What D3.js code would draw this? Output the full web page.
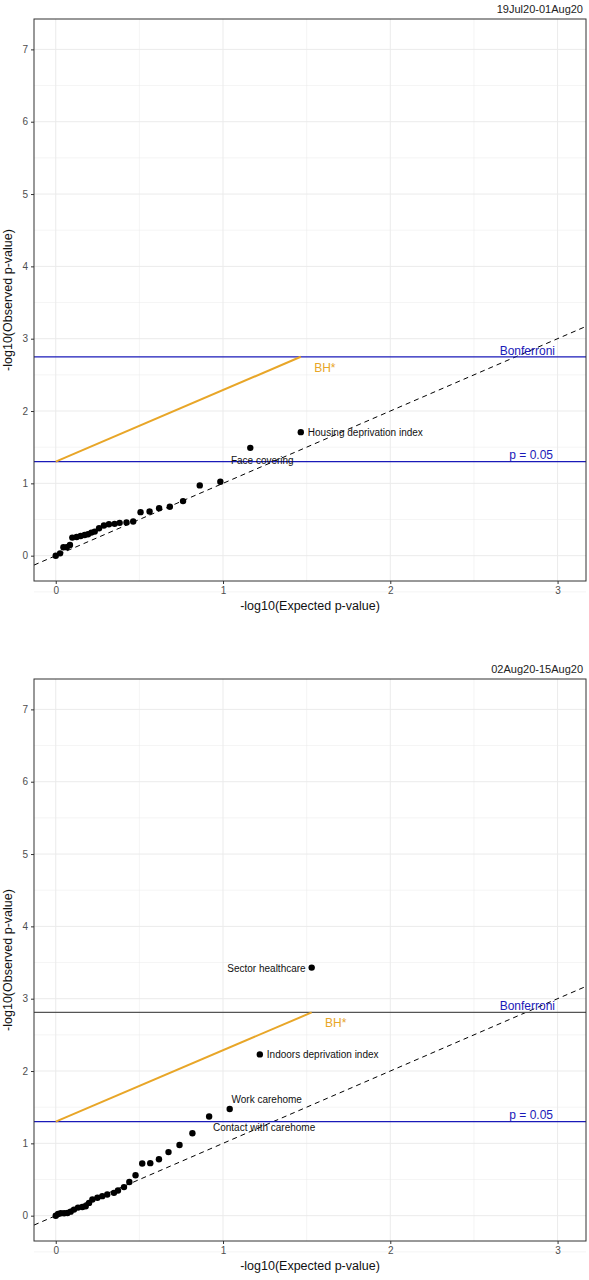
<!DOCTYPE html>
<html><head><meta charset="utf-8">
<script src="https://cdn.jsdelivr.net/npm/d3@7"></script>
<style>body{margin:0;background:#fff;font-family:"Liberation Sans",Arial,sans-serif}</style>
</head><body><svg id="chart" width="589" height="1280"></svg>
<script>
// panel 1: 19Jul20-01Aug20
var exp1 = [0,.026,.046,.066,.085,.099,.125,.149,.173,.193,.213,.233,.259,.288,.318,.352,.382,.423,.463,.507,.561,.618,.682,.761,.861,.984,1.163,1.465];
var obs1 = [0,.032,.116,.116,.148,.25,.259,.273,.287,.296,.319,.333,.38,.417,.435,.44,.454,.458,.472,.602,.611,.657,.676,.755,.972,1.023,1.491,1.708];
var labels1 = [{i:27, text:"Housing deprivation index", pos:"right", dx:7, dy:4},
               {i:26, text:"Face covering", pos:"mid", dx:12, dy:16}];
var bonf1 = 2.75, bhEnd1 = 1.465;

// panel 2: 02Aug20-15Aug20
var exp2 = [0,.014,.030,.050,.070,.089,.109,.133,.159,.179,.199,.219,.249,.278,.308,.348,.372,.408,.440,.477,.517,.565,.617,.674,.740,.817,.917,1.04,1.22,1.53];
var obs2 = [0,.023,.033,.033,.037,.056,.084,.112,.121,.13,.177,.223,.247,.27,.293,.316,.349,.395,.465,.558,.721,.726,.781,.879,.977,1.14,1.372,1.474,2.23,3.43];
var labels2 = [{i:29, text:"Sector healthcare", pos:"left", dx:-6, dy:4},
               {i:28, text:"Indoors deprivation index", pos:"right", dx:7, dy:4},
               {i:27, text:"Work carehome", pos:"mid", dx:37, dy:-6},
               {i:26, text:"Contact with carehome", pos:"mid", dx:55, dy:15}];
var bonf2 = 2.81, bhEnd2 = 1.53;

var pCut = -Math.log10(0.05);
var svg = d3.select("#chart");

function drawPanel(top, title, ex, ob, labs, bonf, bhEnd, bonfColor) {
  var x = d3.scaleLinear().domain([-0.13, 3.17]).range([34, 586]);
  var y = d3.scaleLinear().domain([-0.35, 7.42]).range([top + 562, top]);
  var g = svg.append("g");

  g.append("text").attr("x", 583).attr("y", top - 6).attr("text-anchor", "end")
    .attr("font-size", 11).attr("fill", "#222").text(title);

  // grid
  d3.range(-0.5, 7.5, 0.5).forEach(function(v) {
    g.append("line").attr("x1", 34).attr("x2", 586).attr("y1", y(v)).attr("y2", y(v))
      .attr("stroke", "#ebebeb").attr("stroke-width", v % 1 === 0 ? 1 : 0.5);
  });
  d3.range(0, 3.5, 0.5).forEach(function(v) {
    g.append("line").attr("y1", top).attr("y2", top + 562).attr("x1", x(v)).attr("x2", x(v))
      .attr("stroke", "#ebebeb").attr("stroke-width", v % 1 === 0 ? 1 : 0.5);
  });

  // reference lines
  g.append("line").attr("x1", x(-0.13)).attr("y1", y(-0.13)).attr("x2", x(3.17)).attr("y2", y(3.17))
    .attr("stroke", "#000").attr("stroke-dasharray", "5,4").attr("stroke-width", 1);
  g.append("line").attr("x1", 34).attr("x2", 586).attr("y1", y(bonf)).attr("y2", y(bonf))
    .attr("stroke", bonfColor).attr("stroke-width", 1.2);
  g.append("line").attr("x1", 34).attr("x2", 586).attr("y1", y(pCut)).attr("y2", y(pCut))
    .attr("stroke", "#1a1ab8").attr("stroke-width", 1.2);
  g.append("line").attr("x1", x(0)).attr("y1", y(pCut)).attr("x2", x(bhEnd)).attr("y2", y(bonf))
    .attr("stroke", "#e8a628").attr("stroke-width", 2);

  g.append("text").attr("x", 555).attr("y", y(bonf) - 2).attr("text-anchor", "end")
    .attr("font-size", 12).attr("fill", "#1a1ab8").text("Bonferroni");
  g.append("text").attr("x", 553).attr("y", y(pCut) - 3).attr("text-anchor", "end")
    .attr("font-size", 12).attr("fill", "#1a1ab8").text("p = 0.05");
  g.append("text").attr("x", x(bhEnd + 0.08)).attr("y", y(bonf) + 15)
    .attr("font-size", 12).attr("fill", "#e8a628").text("BH*");

  g.selectAll("circle").data(ex).enter().append("circle")
    .attr("cx", function(d) { return x(d); })
    .attr("cy", function(d, i) { return y(ob[i]); })
    .attr("r", 3.2).attr("fill", "#000");

  labs.forEach(function(l) {
    var anchor = l.pos === "right" ? "start" : l.pos === "left" ? "end" : "middle";
    g.append("text").attr("font-size", 10).attr("fill", "#111")
      .attr("x", x(ex[l.i]) + l.dx).attr("y", y(ob[l.i]) + l.dy)
      .attr("text-anchor", anchor).text(l.text);
  });

  // frame
  g.append("rect").attr("x", 34).attr("y", top).attr("width", 552).attr("height", 562)
    .attr("fill", "none").attr("stroke", "#333").attr("stroke-width", 1);

  var xa = g.append("g").attr("transform", "translate(0," + (top + 562) + ")")
    .call(d3.axisBottom(x).tickValues([0, 1, 2, 3]).tickFormat(d3.format("d")).tickSize(3));
  var ya = g.append("g").attr("transform", "translate(34,0)")
    .call(d3.axisLeft(y).tickValues(d3.range(0, 8)).tickFormat(d3.format("d")).tickSize(3));
  [xa, ya].forEach(function(a) {
    a.select(".domain").remove();
    a.selectAll("text").attr("font-size", 10).attr("fill", "#4d4d4d")
      .attr("font-family", "Liberation Sans, Arial, sans-serif");
    a.selectAll("line").attr("stroke", "#333");
  });

  g.append("text").attr("x", 310).attr("y", top + 591).attr("text-anchor", "middle")
    .attr("font-size", 12.5).attr("fill", "#111").text("-log10(Expected p-value)");
  g.append("text").attr("transform", "translate(12," + (top + 281) + ") rotate(-90)")
    .attr("text-anchor", "middle").attr("font-size", 12.5).attr("fill", "#111")
    .text("-log10(Observed p-value)");
}

drawPanel(19, "19Jul20-01Aug20", exp1, obs1, labels1, bonf1, bhEnd1, "#1a1ab8");
drawPanel(679, "02Aug20-15Aug20", exp2, obs2, labels2, bonf2, bhEnd2, "#555");
</script></body></html>
